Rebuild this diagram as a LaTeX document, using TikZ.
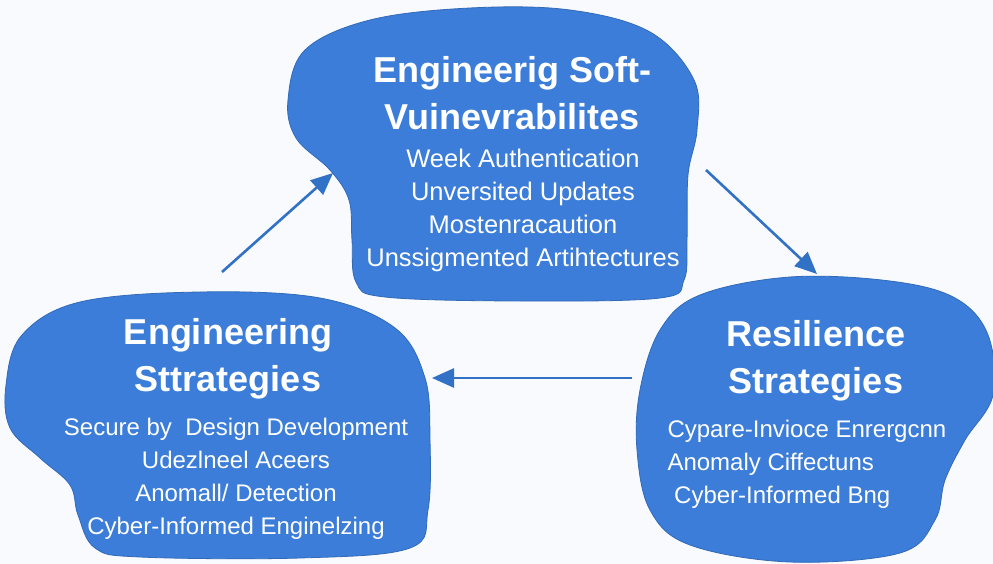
\documentclass[tikz,border=0pt]{standalone}
\usepackage{fontspec}
\setmainfont{Liberation Sans}
\usetikzlibrary{arrows.meta}

\definecolor{blobblue}{HTML}{3B7DD8}
\definecolor{flowblue}{HTML}{3171C6}
\definecolor{paper}{HTML}{F8FAFD}

\begin{document}
\begin{tikzpicture}[x=1pt, y=-1pt,
    blob/.style={fill=blobblue, draw=blobblue!85!black, line width=0.8pt},
    heading/.style={text=white, align=center, font=\fontsize{36}{47}\selectfont\bfseries},
    items/.style={text=white, align=center, font=\fontsize{24}{33}\selectfont},
    flow/.style={draw=flowblue, line width=2.6pt, -{Triangle[length=22pt, width=19pt]}}
]

% canvas
\fill[paper] (0,0) rectangle (993,564);
\useasboundingbox (0,0) rectangle (993,564);

% blobs
\path[blob] plot[smooth cycle, tension=0.6] coordinates {
    (288,100) (305,50) (370,20) (470,8) (570,10) (650,32) (694,80) (697,130)
    (688,175) (687,240) (684,280) (660,298) (520,301) (385,297) (356,282)
    (352,240) (349,200) (330,170) (296,138)};
\path[blob] plot[smooth cycle, tension=0.6] coordinates {
    (6,385) (22,335) (80,302) (200,292) (320,298) (395,328) (425,378) (430,440)
    (428,510) (410,548) (300,558) (140,557) (95,548) (78,515) (70,485) (40,458) (10,428)};
\path[blob] plot[smooth cycle, tension=0.6] coordinates {
    (640,390) (660,330) (700,295) (790,277) (890,281) (955,298) (988,335) (993,395)
    (965,440) (945,480) (935,520) (900,553) (790,562) (690,545) (650,510) (637,450)};

% texts
\node[heading] (vuln) at (512,93) {Engineerig Soft-\\Vuinevrabilites};
\node[items, font=\fontsize{25.5}{33}\selectfont] (vuln-list) at (523,210) {Week Authentication\\Unversited Updates\\Mostenracaution\\Unssigmented Artihtectures};

\node[heading] (eng) at (228,359) {Engineering\\Sttrategies};
\node[items] (eng-list) at (236,479) {Secure by\ \ Design Development\\Udezlneel Aceers\\Anomall/ Detection\\Cyber-Informed Enginelzing};

\node[heading] (res) at (816,361) {Resilience\\Strategies};
\node[items, align=left, anchor=west] (res-list) at (664,464) {Cypare-Invioce Enrergcnn\\Anomaly Ciffectuns\\\ Cyber-Informed Bng};

% connector ends on the blob edges
\coordinate (eng-top) at (222,272);
\coordinate (vuln-west) at (333,173);
\coordinate (vuln-east) at (706,170);
\coordinate (res-top) at (817,274);
\coordinate (res-west) at (632,378);
\coordinate (eng-east) at (432,378);

\draw[flow] (eng-top) -- (vuln-west);
\draw[flow] (vuln-east) -- (res-top);
\draw[flow] (res-west) -- (eng-east);

\end{tikzpicture}
\end{document}
